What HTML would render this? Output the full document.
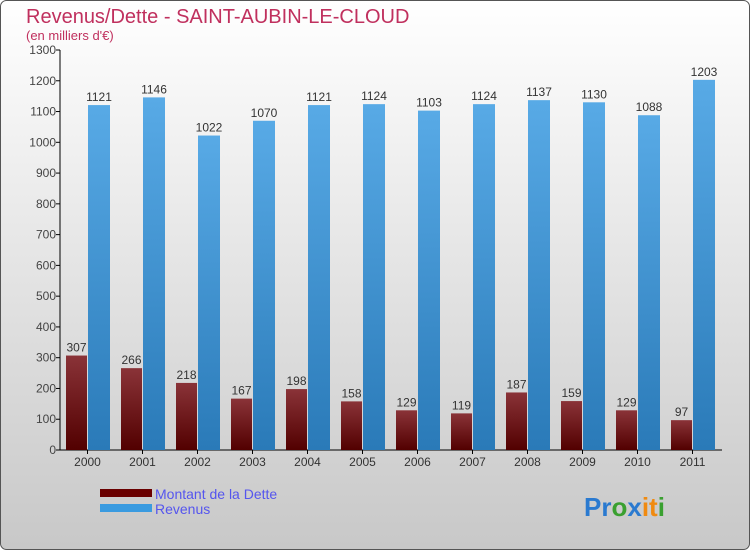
<!DOCTYPE html>
<html><head><meta charset="utf-8"><style>
body{margin:0;width:750px;height:550px;overflow:hidden;font-family:"Liberation Sans",sans-serif}
</style></head><body>
<svg width="750" height="550" xmlns="http://www.w3.org/2000/svg">
<defs>
<linearGradient id="bg" x1="0" y1="0" x2="0" y2="1"><stop offset="0" stop-color="#ffffff"/><stop offset="1" stop-color="#c8c8c8"/></linearGradient>
<linearGradient id="gd" x1="0" y1="0" x2="0" y2="1"><stop offset="0" stop-color="#8a3338"/><stop offset="1" stop-color="#520000"/></linearGradient>
<linearGradient id="gr" x1="0" y1="0" x2="0" y2="1"><stop offset="0" stop-color="#58aae6"/><stop offset="1" stop-color="#2a7ab8"/></linearGradient>
</defs>
<rect x="0.5" y="0.5" width="749" height="549" rx="6" fill="url(#bg)" stroke="#555"/>
<text x="26" y="23" font-size="20" fill="#c0305e">Revenus/Dette - SAINT-AUBIN-LE-CLOUD</text>
<text x="26" y="40" font-size="13" fill="#c0305e">(en milliers d'€)</text>
<g id="yaxis"></g>
<g id="bars"></g>
<g>
<rect x="100" y="489" width="52" height="8" fill="#6a0000"/>
<text x="155" y="499" font-size="14" fill="#5555ee">Montant de la Dette</text>
<rect x="100" y="504" width="52" height="8" fill="#3a9be0"/>
<text x="155" y="514" font-size="14" fill="#5555ee">Revenus</text>
</g>
<text x="584" y="516" font-size="26" font-weight="bold"><tspan fill="#2a7ad0">Pr</tspan><tspan fill="#3aa030">o</tspan><tspan fill="#2a7ad0">x</tspan><tspan fill="#f08a10">it</tspan><tspan fill="#3aa030">i</tspan></text>
</svg>
<script>
const years=["2000","2001","2002","2003","2004","2005","2006","2007","2008","2009","2010","2011"];
const dette=[307,266,218,167,198,158,129,119,187,159,129,97];
const revenus=[1121,1146,1022,1070,1121,1124,1103,1124,1137,1130,1088,1203];
const yTicks=[0,100,200,300,400,500,600,700,800,900,1000,1100,1200,1300];
const NS="http://www.w3.org/2000/svg";
const y0=450,yMax=1300,h=400;
function ys(v){return y0-v/yMax*h;}
function xs(i){return 66+i*55;}
function mk(tag,attrs,parent){const e=document.createElementNS(NS,tag);for(const k in attrs)e.setAttribute(k,attrs[k]);parent.appendChild(e);return e;}
const ya=document.getElementById('yaxis'),bg=document.getElementById('bars');
let l=mk('line',{x1:60,y1:50,x2:60,y2:450,stroke:'#000'},ya);


l=mk('line',{x1:60,y1:450,x2:722,y2:450,stroke:'#000'},ya);


yTicks.forEach(v=>{
 const t=mk('line',{x1:56,x2:60,y1:ys(v),y2:ys(v),stroke:'#000'},ya);
 
 
 const tx=mk('text',{x:56,y:ys(v)+4,'font-size':12,fill:'#444','text-anchor':'end'},ya);
 tx.textContent=v;
 
 
});
years.forEach((yr,i)=>{
 const x=xs(i);
 const t=mk('line',{x1:x+21.5,x2:x+21.5,y1:450,y2:454,stroke:'#000'},bg);
 
 
 const lb=mk('text',{x:x+21.5,y:466,'font-size':12,fill:'#333','text-anchor':'middle'},bg);
 lb.textContent=yr;
 
 
 const b1=mk('rect',{x:x,y:ys(dette[i]),width:21,height:y0-ys(dette[i]),fill:'url(#gd)'},bg);
 
 
 const b2=mk('rect',{x:x+22,y:ys(revenus[i]),width:22,height:y0-ys(revenus[i]),fill:'url(#gr)'},bg);
 
 
 const v1=mk('text',{x:x+10.5,y:ys(dette[i])-4,'font-size':12,fill:'#333','text-anchor':'middle'},bg);
 v1.textContent=dette[i];
 
 
 const v2=mk('text',{x:x+33,y:ys(revenus[i])-4,'font-size':12,fill:'#333','text-anchor':'middle'},bg);
 v2.textContent=revenus[i];
 
 
});
</script>
</body></html>
